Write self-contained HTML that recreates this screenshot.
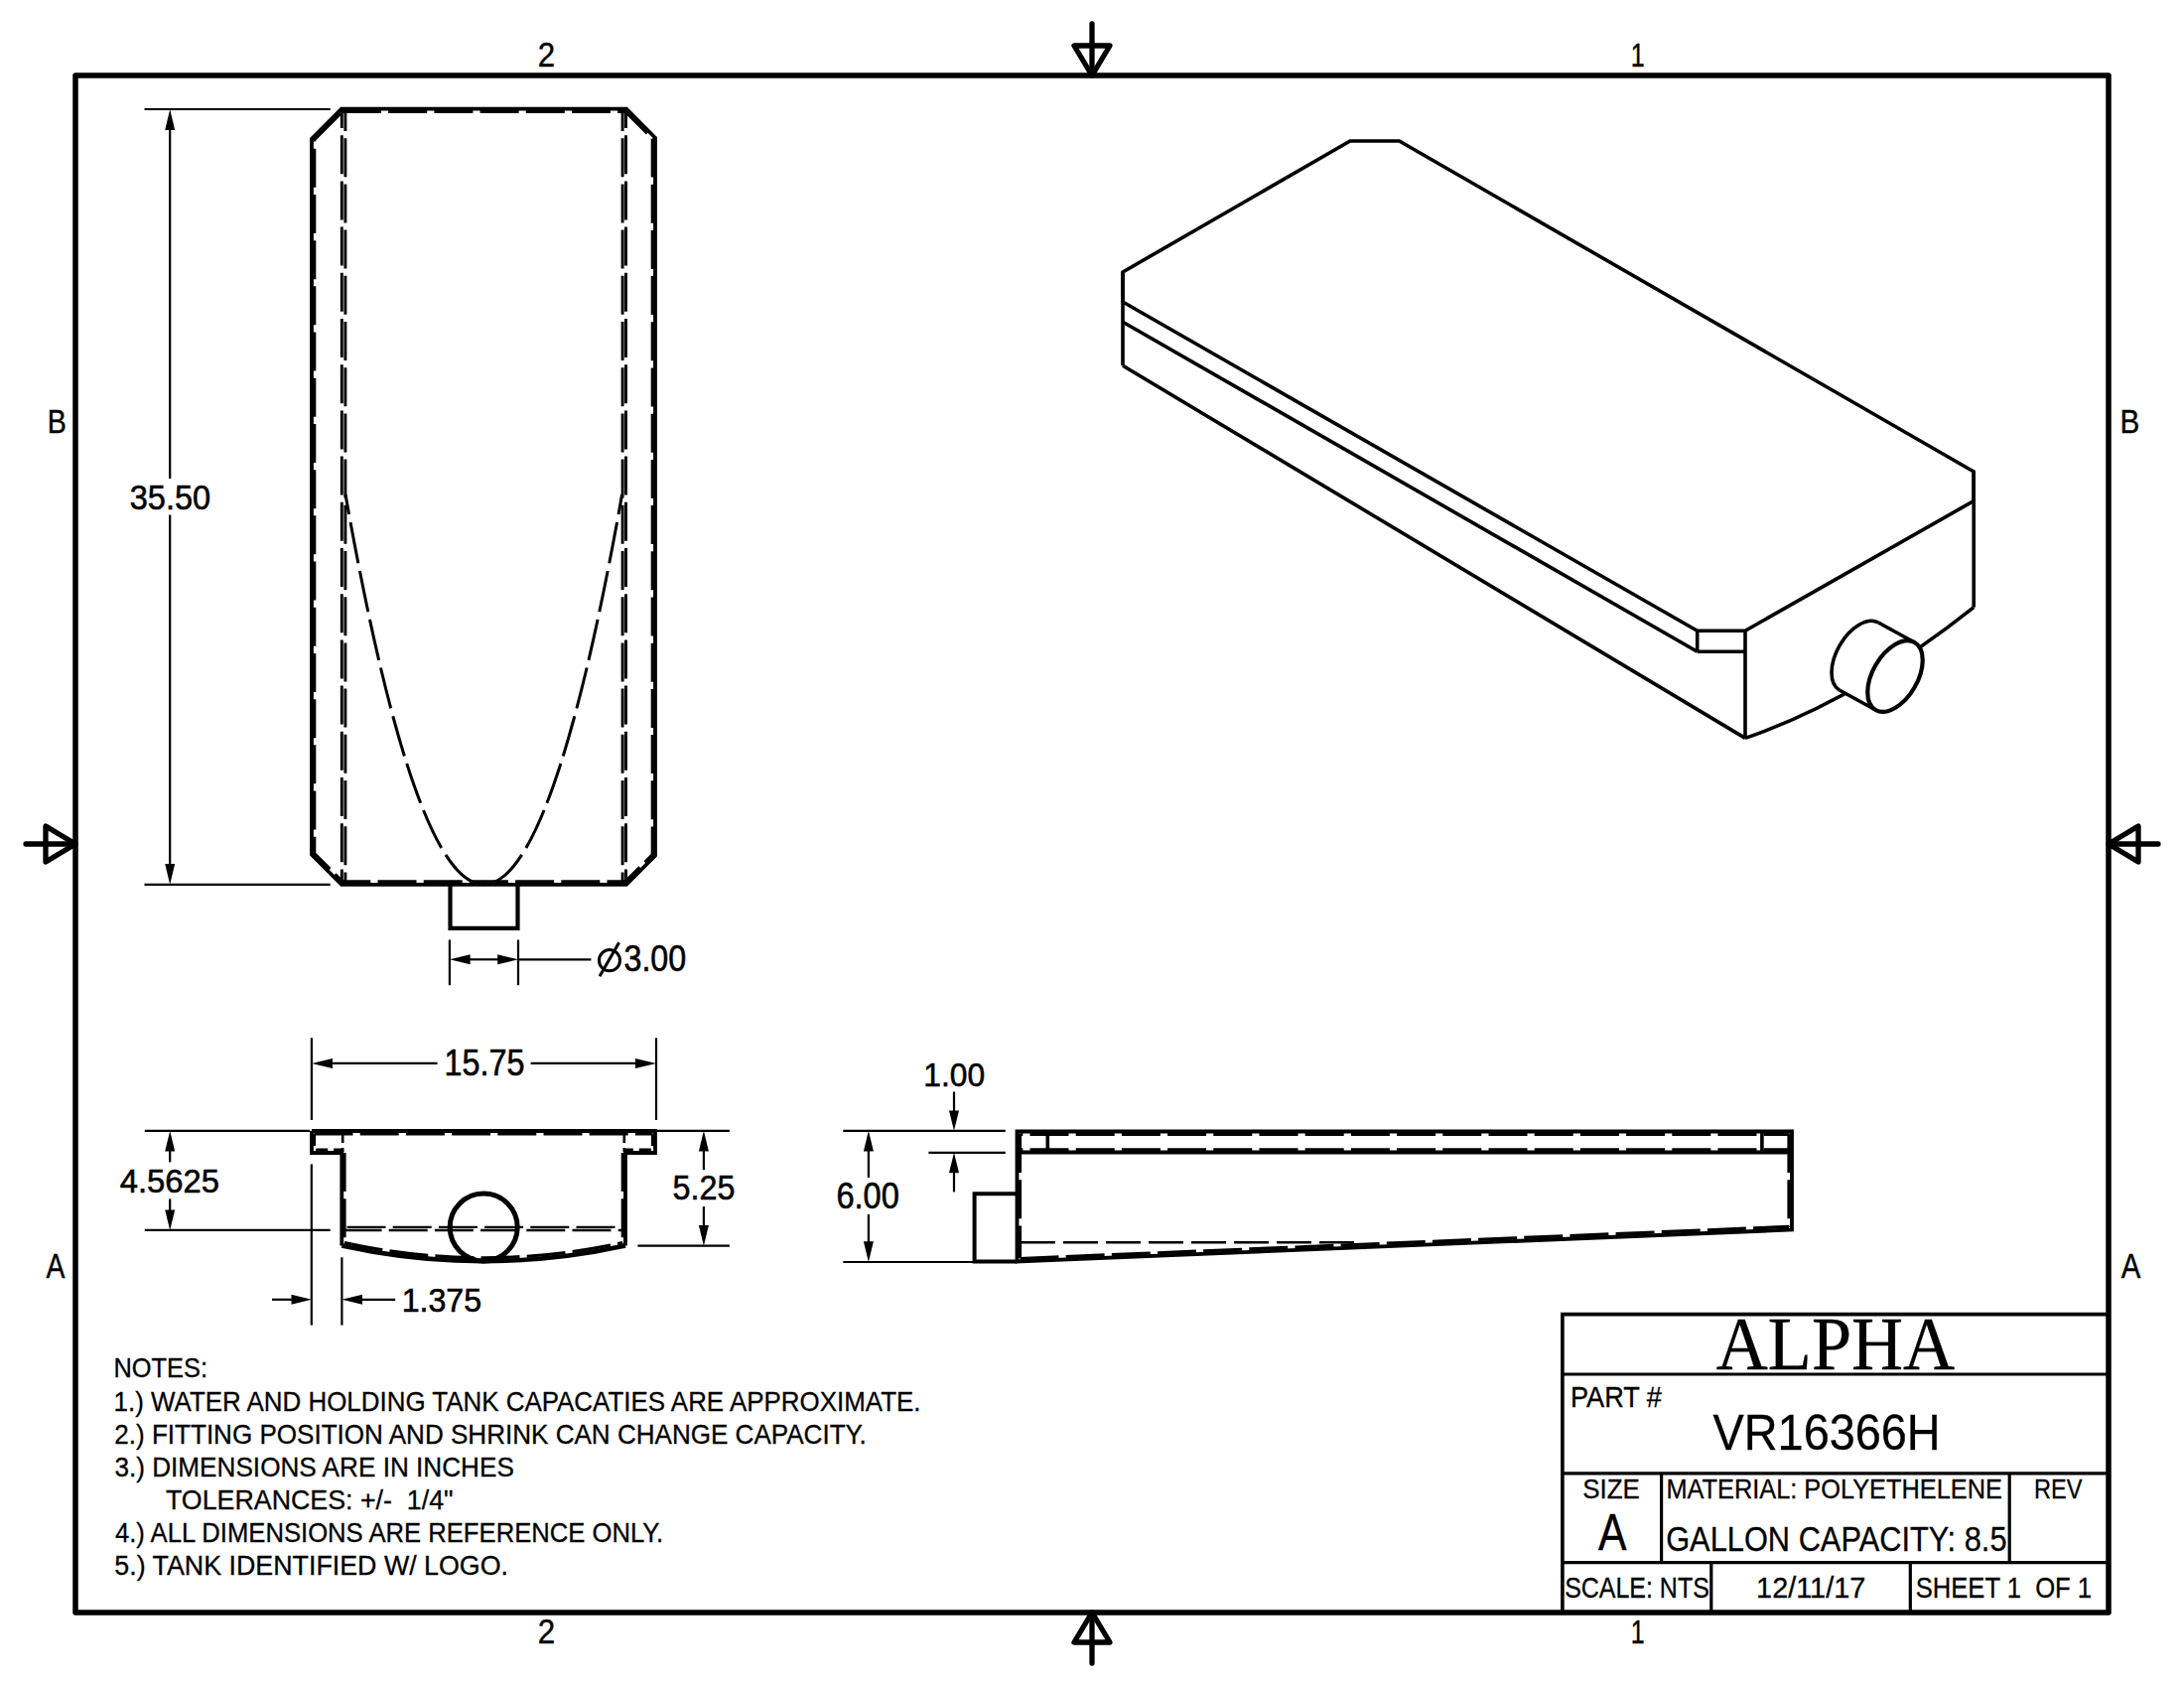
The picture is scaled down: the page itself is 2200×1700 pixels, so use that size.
<!DOCTYPE html>
<html><head><meta charset="utf-8"><title>VR16366H</title>
<style>html,body{margin:0;padding:0;background:#fff;} svg{display:block;}</style></head>
<body><svg width="2200" height="1700" viewBox="0 0 2200 1700" stroke="#000" fill="none">
<rect x="0" y="0" width="2200" height="1700" fill="#fff" stroke="none"/>
<path d="M76,76 L2124,76 L2124,1624 L76,1624 Z" stroke-width="5.5" fill="none" stroke-linejoin="round" stroke-linecap="butt"/>
<line x1="1100" y1="24" x2="1100" y2="76" stroke-width="5.3" stroke-linecap="round"/>
<path d="M1082,46 L1118,46 L1100,76 Z" stroke-width="5.3" fill="none" stroke-linejoin="round" stroke-linecap="butt"/>
<line x1="1100" y1="1624" x2="1100" y2="1675" stroke-width="5.3" stroke-linecap="round"/>
<path d="M1082,1654 L1118,1654 L1100,1624 Z" stroke-width="5.3" fill="none" stroke-linejoin="round" stroke-linecap="butt"/>
<line x1="26" y1="850" x2="76" y2="850" stroke-width="5.3" stroke-linecap="round"/>
<path d="M46,832 L46,868 L76,850 Z" stroke-width="5.3" fill="none" stroke-linejoin="round" stroke-linecap="butt"/>
<line x1="2124" y1="850" x2="2174" y2="850" stroke-width="5.3" stroke-linecap="round"/>
<path d="M2154,832 L2154,868 L2124,850 Z" stroke-width="5.3" fill="none" stroke-linejoin="round" stroke-linecap="butt"/>
<text x="541.69" y="67.44" font-family="Liberation Sans" font-size="35.92" textLength="17.45" lengthAdjust="spacingAndGlyphs" fill="#000" stroke="#000" stroke-width="0.4">2</text>
<text x="1642.69" y="67.14" font-family="Liberation Sans" font-size="33.36" textLength="13.92" lengthAdjust="spacingAndGlyphs" fill="#000" stroke="#000" stroke-width="0.4">1</text>
<text x="541.69" y="1655.14" font-family="Liberation Sans" font-size="34.47" textLength="17.45" lengthAdjust="spacingAndGlyphs" fill="#000" stroke="#000" stroke-width="0.4">2</text>
<text x="1642.67" y="1655.14" font-family="Liberation Sans" font-size="33.77" textLength="13.93" lengthAdjust="spacingAndGlyphs" fill="#000" stroke="#000" stroke-width="0.4">1</text>
<text x="47.79" y="436.44" font-family="Liberation Sans" font-size="33.31" textLength="19.07" lengthAdjust="spacingAndGlyphs" fill="#000" stroke="#000" stroke-width="0.4">B</text>
<text x="2135.54" y="436.44" font-family="Liberation Sans" font-size="33.31" textLength="19.81" lengthAdjust="spacingAndGlyphs" fill="#000" stroke="#000" stroke-width="0.4">B</text>
<text x="46.41" y="1286.84" font-family="Liberation Sans" font-size="34.95" textLength="18.95" lengthAdjust="spacingAndGlyphs" fill="#000" stroke="#000" stroke-width="0.4">A</text>
<text x="2136.67" y="1286.84" font-family="Liberation Sans" font-size="34.95" textLength="19.55" lengthAdjust="spacingAndGlyphs" fill="#000" stroke="#000" stroke-width="0.4">A</text>
<path d="M344,109.7 L631,109.7 L660,138.7 L660,861.8 L631,890.8 L344,890.8 L314,860.8 L314,139.7 Z" stroke-width="3.8" fill="none" stroke-linejoin="miter" stroke-linecap="butt"/>
<path d="M345,112.4 L630,112.4 L657.3,139.7 L657.3,860.6 L630,887.9 L345,887.9 L316.7,859.6 L316.7,140.7 Z" stroke-width="3.2" fill="none" stroke-linejoin="miter" stroke-linecap="butt" stroke-dasharray="39 7.2" stroke-dashoffset="0"/>
<line x1="344.3" y1="111" x2="344.3" y2="888" stroke-width="2.9" stroke-linecap="butt" stroke-dasharray="39 7.2" stroke-dashoffset="21"/>
<line x1="347.9" y1="111" x2="347.9" y2="888" stroke-width="2.9" stroke-linecap="butt" stroke-dasharray="39 7.2" stroke-dashoffset="18"/>
<line x1="627.1" y1="111" x2="627.1" y2="888" stroke-width="2.9" stroke-linecap="butt" stroke-dasharray="39 7.2" stroke-dashoffset="18"/>
<line x1="630.5" y1="111" x2="630.5" y2="888" stroke-width="2.9" stroke-linecap="butt" stroke-dasharray="39 7.2" stroke-dashoffset="21"/>
<path d="M348,498 Q417.65,890.7 487.3,890.7" stroke-width="3.0" fill="none" stroke-linejoin="miter" stroke-linecap="butt" stroke-dasharray="42 8" stroke-dashoffset="22"/>
<path d="M626.6,498 Q556.95,890.7 487.3,890.7" stroke-width="3.0" fill="none" stroke-linejoin="miter" stroke-linecap="butt" stroke-dasharray="42 8" stroke-dashoffset="22"/>
<path d="M453.5,890.8 L453.5,934.8 L521.5,934.8 L521.5,890.8" stroke-width="4.2" fill="none" stroke-linejoin="miter" stroke-linecap="butt"/>
<line x1="145.5" y1="110" x2="332.7" y2="110" stroke-width="2.2" stroke-linecap="butt"/>
<line x1="145.5" y1="890.8" x2="332.7" y2="890.8" stroke-width="2.2" stroke-linecap="butt"/>
<line x1="171.2" y1="130" x2="171.2" y2="482" stroke-width="2.2" stroke-linecap="butt"/>
<line x1="171.2" y1="518.6" x2="171.2" y2="870" stroke-width="2.2" stroke-linecap="butt"/>
<polygon points="171.20,110.00 176.20,131.00 166.20,131.00" stroke="none" fill="#000"/>
<polygon points="171.20,890.80 166.20,870.00 176.20,870.00" stroke="none" fill="#000"/>
<text x="130.72" y="513.44" font-family="Liberation Sans" font-size="35.98" textLength="81.36" lengthAdjust="spacingAndGlyphs" fill="#000" stroke="#000" stroke-width="0.6">35.50</text>
<line x1="452.9" y1="946.5" x2="452.9" y2="992.2" stroke-width="2.2" stroke-linecap="butt"/>
<line x1="522" y1="946.5" x2="522" y2="992.2" stroke-width="2.2" stroke-linecap="butt"/>
<line x1="472" y1="966.3" x2="502" y2="966.3" stroke-width="2.2" stroke-linecap="butt"/>
<line x1="522" y1="966.3" x2="595.4" y2="966.3" stroke-width="2.2" stroke-linecap="butt"/>
<polygon points="453.00,966.30 473.60,961.30 473.60,971.30" stroke="none" fill="#000"/>
<polygon points="522.00,966.30 501.20,971.30 501.20,961.30" stroke="none" fill="#000"/>
<ellipse cx="614" cy="967.2" rx="10.5" ry="10.6" fill="none" stroke-width="3.0"/>
<line x1="604" y1="983.2" x2="623.6" y2="949.2" stroke-width="3.0" stroke-linecap="butt"/>
<text x="628.44" y="978.24" font-family="Liberation Sans" font-size="36.21" textLength="62.79" lengthAdjust="spacingAndGlyphs" fill="#000" stroke="#000" stroke-width="0.6">3.00</text>
<path d="M314,1139 L660,1139 L660,1161 L630,1161 L630,1254.5" stroke-width="3.8" fill="none" stroke-linejoin="miter" stroke-linecap="butt"/>
<path d="M630,1254.5 Q487,1286 344.3,1254.5" stroke-width="4.3999999999999995" fill="none" stroke-linejoin="miter" stroke-linecap="butt"/>
<path d="M344.3,1254.5 L344.3,1161 L314,1161 L314,1139" stroke-width="3.8" fill="none" stroke-linejoin="miter" stroke-linecap="butt"/>
<path d="M316.5,1141.9 L657.5,1141.9" stroke-width="3.2" fill="none" stroke-linejoin="miter" stroke-linecap="butt" stroke-dasharray="39 7.2" stroke-dashoffset="0"/>
<path d="M316.5,1141.9 L316.5,1158.2 L344,1158.2" stroke-width="3.2" fill="none" stroke-linejoin="miter" stroke-linecap="butt" stroke-dasharray="12 6" stroke-dashoffset="0"/>
<path d="M657.5,1141.9 L657.5,1158.2 L630,1158.2" stroke-width="3.2" fill="none" stroke-linejoin="miter" stroke-linecap="butt" stroke-dasharray="12 6" stroke-dashoffset="0"/>
<line x1="345.2" y1="1143" x2="345.2" y2="1160" stroke-width="2.6" stroke-linecap="butt" stroke-dasharray="8 5" stroke-dashoffset="0"/>
<line x1="628.8" y1="1143" x2="628.8" y2="1160" stroke-width="2.6" stroke-linecap="butt" stroke-dasharray="8 5" stroke-dashoffset="0"/>
<line x1="347" y1="1161" x2="347" y2="1252" stroke-width="3.2" stroke-linecap="butt" stroke-dasharray="39 7.2" stroke-dashoffset="0"/>
<line x1="627.3" y1="1161" x2="627.3" y2="1252" stroke-width="3.2" stroke-linecap="butt" stroke-dasharray="39 7.2" stroke-dashoffset="0"/>
<path d="M347,1251.5 Q487,1282 627.3,1251.5" stroke-width="3.2" fill="none" stroke-linejoin="miter" stroke-linecap="butt" stroke-dasharray="39 7.2" stroke-dashoffset="0"/>
<line x1="347.5" y1="1235.8" x2="627" y2="1235.8" stroke-width="2.3" stroke-linecap="butt" stroke-dasharray="39 7.2" stroke-dashoffset="-2"/>
<line x1="347.5" y1="1239" x2="627" y2="1239" stroke-width="2.3" stroke-linecap="butt" stroke-dasharray="39 7.2" stroke-dashoffset="2"/>
<circle cx="487.2" cy="1236" r="34" fill="none" stroke-width="5"/>
<line x1="313.9" y1="1045.3" x2="313.9" y2="1128" stroke-width="2.2" stroke-linecap="butt"/>
<line x1="661" y1="1045.3" x2="661" y2="1128" stroke-width="2.2" stroke-linecap="butt"/>
<line x1="330" y1="1070.9" x2="440.6" y2="1070.9" stroke-width="2.2" stroke-linecap="butt"/>
<line x1="534.6" y1="1070.9" x2="645" y2="1070.9" stroke-width="2.2" stroke-linecap="butt"/>
<polygon points="314.00,1070.90 335.00,1065.90 335.00,1075.90" stroke="none" fill="#000"/>
<polygon points="661.00,1070.90 640.00,1075.90 640.00,1065.90" stroke="none" fill="#000"/>
<text x="447.56" y="1082.94" font-family="Liberation Sans" font-size="36.28" textLength="80.97" lengthAdjust="spacingAndGlyphs" fill="#000" stroke="#000" stroke-width="0.6">15.75</text>
<line x1="145.8" y1="1138.9" x2="312" y2="1138.9" stroke-width="2.2" stroke-linecap="butt"/>
<line x1="145.8" y1="1238.9" x2="332.7" y2="1238.9" stroke-width="2.2" stroke-linecap="butt"/>
<line x1="171.2" y1="1155" x2="171.2" y2="1170.4" stroke-width="2.2" stroke-linecap="butt"/>
<line x1="171.2" y1="1207.4" x2="171.2" y2="1222" stroke-width="2.2" stroke-linecap="butt"/>
<polygon points="171.20,1138.90 176.20,1159.60 166.20,1159.60" stroke="none" fill="#000"/>
<polygon points="171.20,1238.90 166.20,1218.40 176.20,1218.40" stroke="none" fill="#000"/>
<text x="120.80" y="1201.34" font-family="Liberation Sans" font-size="34.11" textLength="100.22" lengthAdjust="spacingAndGlyphs" fill="#000" stroke="#000" stroke-width="0.6">4.5625</text>
<line x1="662" y1="1138.8" x2="734.9" y2="1138.8" stroke-width="2.2" stroke-linecap="butt"/>
<line x1="642.4" y1="1254.7" x2="734.9" y2="1254.7" stroke-width="2.2" stroke-linecap="butt"/>
<line x1="708.9" y1="1155" x2="708.9" y2="1178.2" stroke-width="2.2" stroke-linecap="butt"/>
<line x1="708.9" y1="1215.1" x2="708.9" y2="1238" stroke-width="2.2" stroke-linecap="butt"/>
<polygon points="708.90,1138.80 713.90,1159.50 703.90,1159.50" stroke="none" fill="#000"/>
<polygon points="708.90,1254.70 703.90,1234.00 713.90,1234.00" stroke="none" fill="#000"/>
<text x="677.54" y="1208.44" font-family="Liberation Sans" font-size="34.59" textLength="62.81" lengthAdjust="spacingAndGlyphs" fill="#000" stroke="#000" stroke-width="0.6">5.25</text>
<line x1="313.8" y1="1172.4" x2="313.8" y2="1334.6" stroke-width="2.2" stroke-linecap="butt"/>
<line x1="344.4" y1="1266.3" x2="344.4" y2="1334.6" stroke-width="2.2" stroke-linecap="butt"/>
<line x1="274" y1="1308.8" x2="296" y2="1308.8" stroke-width="2.2" stroke-linecap="butt"/>
<line x1="362" y1="1308.8" x2="398.2" y2="1308.8" stroke-width="2.2" stroke-linecap="butt"/>
<polygon points="313.80,1308.80 293.50,1313.80 293.50,1303.80" stroke="none" fill="#000"/>
<polygon points="344.40,1308.80 365.00,1303.80 365.00,1313.80" stroke="none" fill="#000"/>
<text x="404.64" y="1321.34" font-family="Liberation Sans" font-size="34.11" textLength="80.49" lengthAdjust="spacingAndGlyphs" fill="#000" stroke="#000" stroke-width="0.6">1.375</text>
<path d="M1024.5,1139.5 L1805,1139.5 L1805,1238.5 L1024.5,1270.5 Z" stroke-width="3.8" fill="none" stroke-linejoin="miter" stroke-linecap="butt"/>
<line x1="1024.5" y1="1160.5" x2="1805" y2="1160.5" stroke-width="4.2" stroke-linecap="butt"/>
<line x1="1055.3" y1="1141" x2="1055.3" y2="1160" stroke-width="3.6" stroke-linecap="butt"/>
<line x1="1774.9" y1="1141" x2="1774.9" y2="1160" stroke-width="3.6" stroke-linecap="butt"/>
<line x1="1027.5" y1="1142.3" x2="1802" y2="1142.3" stroke-width="3.2" stroke-linecap="butt" stroke-dasharray="39 7.2" stroke-dashoffset="-10"/>
<line x1="1027.5" y1="1157.8" x2="1802" y2="1157.8" stroke-width="3.2" stroke-linecap="butt" stroke-dasharray="39 7.2" stroke-dashoffset="-10"/>
<line x1="1027.5" y1="1142" x2="1027.5" y2="1267" stroke-width="3.2" stroke-linecap="butt" stroke-dasharray="39 7.2" stroke-dashoffset="0"/>
<line x1="1802" y1="1142" x2="1802" y2="1236" stroke-width="3.2" stroke-linecap="butt" stroke-dasharray="39 7.2" stroke-dashoffset="0"/>
<path d="M1027.5,1267.5 L1802,1235.4" stroke-width="3.2" fill="none" stroke-linejoin="miter" stroke-linecap="butt" stroke-dasharray="39 7.2" stroke-dashoffset="0"/>
<path d="M1028,1251.3 L1370,1251.3" stroke-width="2.6" fill="none" stroke-linejoin="miter" stroke-linecap="butt" stroke-dasharray="35 8" stroke-dashoffset="0"/>
<path d="M1024.5,1202.2 L981.6,1202.2 L981.6,1270.5 L1024.5,1270.5" stroke-width="4.0" fill="none" stroke-linejoin="miter" stroke-linecap="butt"/>
<line x1="849.3" y1="1138.8" x2="1012.8" y2="1138.8" stroke-width="2.2" stroke-linecap="butt"/>
<line x1="935.4" y1="1160.8" x2="1012.8" y2="1160.8" stroke-width="2.2" stroke-linecap="butt"/>
<line x1="849.3" y1="1271" x2="980" y2="1271" stroke-width="2.2" stroke-linecap="butt"/>
<line x1="874.9" y1="1155" x2="874.9" y2="1186" stroke-width="2.2" stroke-linecap="butt"/>
<line x1="874.9" y1="1222.9" x2="874.9" y2="1255" stroke-width="2.2" stroke-linecap="butt"/>
<polygon points="874.90,1138.80 879.90,1159.50 869.90,1159.50" stroke="none" fill="#000"/>
<polygon points="874.90,1271.00 869.90,1250.30 879.90,1250.30" stroke="none" fill="#000"/>
<text x="842.44" y="1216.94" font-family="Liberation Sans" font-size="36.03" textLength="63.39" lengthAdjust="spacingAndGlyphs" fill="#000" stroke="#000" stroke-width="0.6">6.00</text>
<line x1="961" y1="1099.5" x2="961" y2="1120" stroke-width="2.2" stroke-linecap="butt"/>
<line x1="961" y1="1178" x2="961" y2="1200.4" stroke-width="2.2" stroke-linecap="butt"/>
<polygon points="961.00,1138.80 956.00,1118.60 966.00,1118.60" stroke="none" fill="#000"/>
<polygon points="961.00,1160.80 966.00,1181.30 956.00,1181.30" stroke="none" fill="#000"/>
<text x="930.25" y="1093.74" font-family="Liberation Sans" font-size="34.11" textLength="61.81" lengthAdjust="spacingAndGlyphs" fill="#000" stroke="#000" stroke-width="0.6">1.00</text>
<path d="M1131,304 L1131,274 L1360,142 L1409.5,142 L1988.2,475 L1988.2,504.5 L1758,635.3 L1709.7,635.3 L1131,304 Z" stroke-width="3.6" fill="none" stroke-linejoin="miter" stroke-linecap="butt"/>
<line x1="1131" y1="274" x2="1131" y2="368.2" stroke-width="3.6" stroke-linecap="butt"/>
<line x1="1131" y1="324.2" x2="1709.7" y2="656.2" stroke-width="3.6" stroke-linecap="butt"/>
<line x1="1709.7" y1="635.3" x2="1709.7" y2="656.2" stroke-width="3.6" stroke-linecap="butt"/>
<line x1="1709.7" y1="656.2" x2="1758" y2="656.2" stroke-width="3.6" stroke-linecap="butt"/>
<line x1="1758" y1="635.3" x2="1758" y2="743.4" stroke-width="3.6" stroke-linecap="butt"/>
<line x1="1988.2" y1="475" x2="1988.2" y2="611.6" stroke-width="3.6" stroke-linecap="butt"/>
<line x1="1131" y1="368.2" x2="1758" y2="743.4" stroke-width="3.6" stroke-linecap="butt"/>
<path d="M1988.2,611.6 Q1871,704.5 1758,743.4" stroke-width="3.6" fill="none" stroke-linejoin="miter" stroke-linecap="butt"/>
<ellipse cx="1872.5" cy="661.0" rx="39.3" ry="22.6" transform="rotate(-60 1872.5 661.0)" fill="#fff" stroke="none"/>
<path d="M1892.15,626.9662 L1928.65,646.9662 L1889.35,715.0338 L1852.85,695.0338 Z" stroke-width="0" fill="#fff" stroke-linejoin="miter" stroke-linecap="butt"/>
<path d="M1892.15,626.97 A39.3,22.6 -60 0 0 1852.85,695.03" stroke-width="3.6" fill="none"/>
<line x1="1892.15" y1="626.97" x2="1928.65" y2="646.97" stroke-width="3.6" stroke-linecap="butt"/>
<line x1="1852.85" y1="695.03" x2="1889.35" y2="715.03" stroke-width="3.6" stroke-linecap="butt"/>
<ellipse cx="1909.0" cy="681.0" rx="39.3" ry="22.6" transform="rotate(-60 1909.0 681.0)" fill="#fff" stroke-width="4.2"/>
<path d="M1573.9,1623.5 L1573.9,1323.6 L2124,1323.6" stroke-width="3.6" fill="none" stroke-linejoin="miter" stroke-linecap="butt"/>
<line x1="1573.8" y1="1384" x2="2124" y2="1384" stroke-width="3.2" stroke-linecap="butt"/>
<line x1="1573.8" y1="1483.9" x2="2124" y2="1483.9" stroke-width="3.2" stroke-linecap="butt"/>
<line x1="1573.8" y1="1573.6" x2="2124" y2="1573.6" stroke-width="3.2" stroke-linecap="butt"/>
<line x1="1673.6" y1="1483.9" x2="1673.6" y2="1573.6" stroke-width="3.2" stroke-linecap="butt"/>
<line x1="2024.2" y1="1483.9" x2="2024.2" y2="1573.6" stroke-width="3.2" stroke-linecap="butt"/>
<line x1="1723.8" y1="1573.6" x2="1723.8" y2="1623.5" stroke-width="3.2" stroke-linecap="butt"/>
<line x1="1924.3" y1="1573.6" x2="1924.3" y2="1623.5" stroke-width="3.2" stroke-linecap="butt"/>
<text x="1728.79" y="1379.05" font-family="Liberation Serif" font-size="75.12" textLength="240.38" lengthAdjust="spacingAndGlyphs" fill="#000" stroke="#000" stroke-width="0.35">ALPHA</text>
<text x="1581.94" y="1416.84" font-family="Liberation Sans" font-size="28.65" textLength="92.02" lengthAdjust="spacingAndGlyphs" fill="#000" stroke="#000" stroke-width="0.3">PART #</text>
<text x="1725.57" y="1460.24" font-family="Liberation Sans" font-size="50.18" textLength="229.04" lengthAdjust="spacingAndGlyphs" fill="#000" stroke="#000" stroke-width="0.3">VR16366H</text>
<text x="1594.30" y="1508.59" font-family="Liberation Sans" font-size="28.14" textLength="57.62" lengthAdjust="spacingAndGlyphs" fill="#000" stroke="#000" stroke-width="0.3">SIZE</text>
<text x="1609.94" y="1561.49" font-family="Liberation Sans" font-size="51.71" textLength="28.50" lengthAdjust="spacingAndGlyphs" fill="#000" stroke="#000" stroke-width="0.4">A</text>
<text x="1678.40" y="1508.59" font-family="Liberation Sans" font-size="28.14" textLength="338.57" lengthAdjust="spacingAndGlyphs" fill="#000" stroke="#000" stroke-width="0.3">MATERIAL: POLYETHELENE</text>
<text x="2048.94" y="1508.59" font-family="Liberation Sans" font-size="28.14" textLength="48.42" lengthAdjust="spacingAndGlyphs" fill="#000" stroke="#000" stroke-width="0.3">REV</text>
<text x="1678.18" y="1561.54" font-family="Liberation Sans" font-size="35.62" textLength="343.35" lengthAdjust="spacingAndGlyphs" fill="#000" stroke="#000" stroke-width="0.3">GALLON CAPACITY: 8.5</text>
<text x="1576.13" y="1608.54" font-family="Liberation Sans" font-size="29.36" textLength="145.67" lengthAdjust="spacingAndGlyphs" fill="#000" stroke="#000" stroke-width="0.3">SCALE: NTS</text>
<text x="1769.08" y="1608.60" font-family="Liberation Sans" font-size="28.73" textLength="110.25" lengthAdjust="spacingAndGlyphs" fill="#000" stroke="#000" stroke-width="0.3">12/11/17</text>
<text x="1929.70" y="1608.54" font-family="Liberation Sans" font-size="29.36" textLength="177.37" lengthAdjust="spacingAndGlyphs" fill="#000" stroke="#000" stroke-width="0.3">SHEET 1  OF 1</text>
<text x="114.44" y="1387.24" font-family="Liberation Sans" font-size="28.18" textLength="94.51" lengthAdjust="spacingAndGlyphs" fill="#000" stroke="#000" stroke-width="0.3">NOTES:</text>
<text x="114.56" y="1421.40" font-family="Liberation Sans" font-size="28.45" textLength="812.92" lengthAdjust="spacingAndGlyphs" fill="#000" stroke="#000" stroke-width="0.3">1.) WATER AND HOLDING TANK CAPACATIES ARE APPROXIMATE.</text>
<text x="115.25" y="1453.90" font-family="Liberation Sans" font-size="27.46" textLength="757.60" lengthAdjust="spacingAndGlyphs" fill="#000" stroke="#000" stroke-width="0.3">2.) FITTING POSITION AND SHRINK CAN CHANGE CAPACITY.</text>
<text x="115.39" y="1487.00" font-family="Liberation Sans" font-size="27.32" textLength="402.50" lengthAdjust="spacingAndGlyphs" fill="#000" stroke="#000" stroke-width="0.3">3.) DIMENSIONS ARE IN INCHES</text>
<text x="166.99" y="1519.80" font-family="Liberation Sans" font-size="27.75" textLength="289.54" lengthAdjust="spacingAndGlyphs" fill="#000" stroke="#000" stroke-width="0.3">TOLERANCES: +/-  1/4&quot;</text>
<text x="115.91" y="1553.00" font-family="Liberation Sans" font-size="28.45" textLength="552.32" lengthAdjust="spacingAndGlyphs" fill="#000" stroke="#000" stroke-width="0.3">4.) ALL DIMENSIONS ARE REFERENCE ONLY.</text>
<text x="115.33" y="1585.50" font-family="Liberation Sans" font-size="27.46" textLength="396.65" lengthAdjust="spacingAndGlyphs" fill="#000" stroke="#000" stroke-width="0.3">5.) TANK IDENTIFIED W/ LOGO.</text>
</svg></body></html>
